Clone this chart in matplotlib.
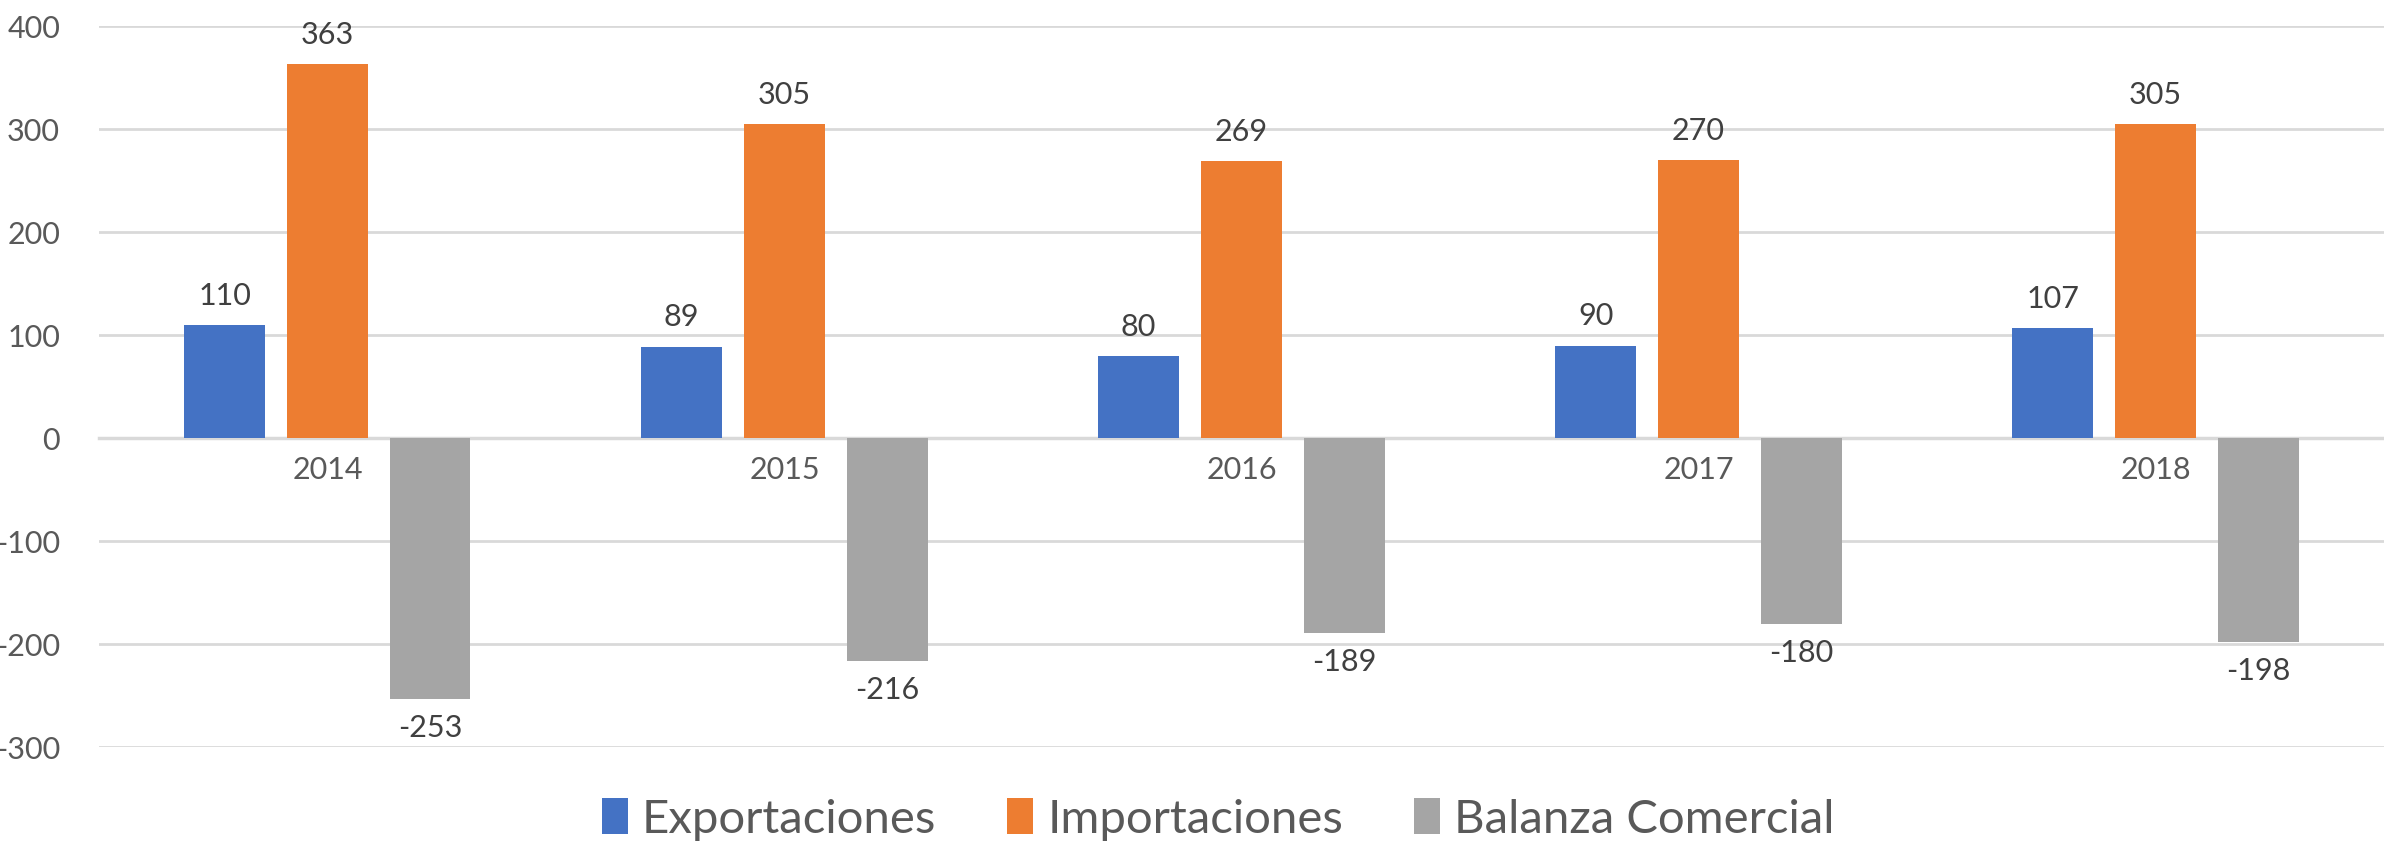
import numpy as np
import matplotlib.pyplot as plt

plt.rcParams["font.family"] = ["Lato", "DejaVu Sans"]
plt.rcParams["axes.unicode_minus"] = False

years = ["2014", "2015", "2016", "2017", "2018"]
exportaciones = [110, 89, 80, 90, 107]
importaciones = [363, 305, 269, 270, 305]
balanza = [-253, -216, -189, -180, -198]

series = [("Exportaciones", exportaciones, "#4472C4"),
          ("Importaciones", importaciones, "#ED7D31"),
          ("Balanza Comercial", balanza, "#A5A5A5")]

fig = plt.figure(figsize=(23.84, 8.49), dpi=100)
ax = fig.add_axes([0.0415, 0.12, 0.9585, 0.849])

x = np.arange(len(years))
width = 0.176
step = 0.225

for i, (name, vals, color) in enumerate(series):
    pos = x + (i - 1) * step
    bars = ax.bar(pos, vals, width=width, color=color, label=name, zorder=3)
    for b, v in zip(bars, vals):
        cx = b.get_x() + b.get_width() / 2
        if v >= 0:
            ax.annotate(str(v), (cx, v), xytext=(0, 11), textcoords="offset points",
                        ha="center", va="bottom", fontsize=22, color="#404040")
        else:
            ax.annotate(str(v), (cx, v), xytext=(0, -11), textcoords="offset points",
                        ha="center", va="top", fontsize=22, color="#404040")

ax.set_xlim(-0.5, len(years) - 0.5)
ax.set_ylim(-300, 400)
ax.set_yticks(range(-300, 401, 100))
ax.yaxis.grid(True, color="#D9D9D9", linewidth=2, zorder=0)
ax.set_axisbelow(True)

for s in ["top", "right", "left"]:
    ax.spines[s].set_visible(False)
ax.spines["bottom"].set_position(("data", 0))
ax.spines["bottom"].set_color("#D9D9D9")
ax.spines["bottom"].set_linewidth(2.5)

ax.set_xticks(x)
ax.set_xticklabels(years)
ax.tick_params(axis="x", length=0, pad=13, labelsize=22, labelcolor="#595959")
ax.tick_params(axis="y", length=0, pad=28, labelsize=22, labelcolor="#595959")

fig.legend(loc="center", bbox_to_anchor=(0.511, 0.035), ncol=3, frameon=False,
           fontsize=34, labelcolor="#595959", handlelength=0.55, handleheight=0.8,
           handletextpad=0.3, columnspacing=1.5)

fig.savefig("out.png", dpi=100, facecolor="white")
